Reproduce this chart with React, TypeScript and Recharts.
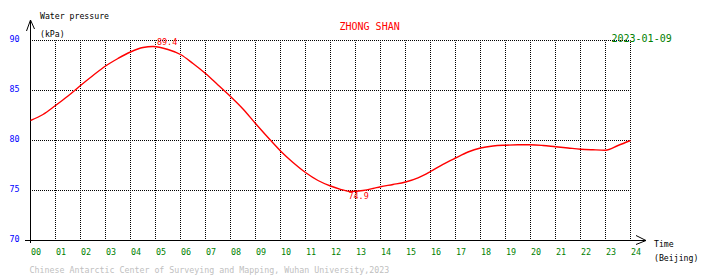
import React from "react";
import {
  LineChart,
  Line,
  XAxis,
  YAxis,
  CartesianGrid,
  ReferenceDot,
  Customized,
} from "recharts";

const hours = [
  0, 0.5, 1, 1.5, 2, 2.5, 3, 3.5, 4, 4.5, 4.9, 5.5, 6, 6.5, 7, 7.5, 8, 8.5, 9,
  9.5, 10, 10.5, 11, 11.5, 12, 12.4, 12.8, 13.3, 13.7, 14, 14.5, 15, 15.5, 16,
  16.5, 17, 17.5, 18, 18.5, 19, 19.5, 20, 20.5, 21, 21.5, 22, 22.5, 23, 23.5, 24,
];
const pressure = [
  82.0, 82.6, 83.5, 84.45, 85.5, 86.5, 87.45, 88.2, 88.85, 89.3, 89.4, 89.1,
  88.6, 87.7, 86.7, 85.55, 84.4, 83.15, 81.7, 80.3, 78.95, 77.8, 76.8, 76.0,
  75.45, 75.12, 74.9, 75.0, 75.2, 75.38, 75.6, 75.85, 76.27, 76.9, 77.62, 78.25,
  78.85, 79.25, 79.45, 79.53, 79.57, 79.57, 79.5, 79.37, 79.25, 79.13, 79.07,
  79.03, 79.5, 80.0,
];
const xTicks = [
  0, 1, 2, 3, 4, 5, 6, 7, 8, 9, 10, 11, 12, 13, 14, 15, 16, 17, 18, 19, 20, 21,
  22, 23, 24,
];
const xTickLabels = [
  "00", "01", "02", "03", "04", "05", "06", "07", "08", "09", "10", "11", "12",
  "13", "14", "15", "16", "17", "18", "19", "20", "21", "22", "23", "24",
];
const yTicks = [70, 75, 80, 85, 90];
const gridX = [1, 2, 3, 4, 5, 6, 7, 8, 9, 10, 11, 12, 13, 14, 15, 16, 17, 18, 19, 20, 21, 22, 23, 24];
const gridY = [75, 80, 85, 90];

const stationName = "ZHONG SHAN";
const dateLabel = "2023-01-09";
const yTitle = "Water pressure";
const yUnit = "(kPa)";
const xTitle = "Time";
const xUnit = "(Beijing)";
const footer =
  "Chinese Antarctic Center of Surveying and Mapping, Wuhan University,2023";

const data = hours.map((h, i) => ({ h, p: pressure[i] }));

const maxVal = Math.max(...pressure);
const minVal = Math.min(...pressure);
const maxIdx = pressure.indexOf(maxVal);
const minIdx = pressure.indexOf(minVal);

const MONO = '"DejaVu Sans Mono", "Liberation Mono", monospace';

const XTick = (props: any) => {
  const { x, payload, index } = props;
  const label = xTickLabels[index] ?? String(payload.value);
  return (
    <text x={x + 0.5} y={255} fontFamily={MONO} fontSize={8.4} fill="#008000" textAnchor="start">
      {label}
    </text>
  );
};

const YTick = (props: any) => {
  const { y, payload } = props;
  return (
    <text x={19.5} y={y + 1} fontFamily={MONO} fontSize={8.4} fill="#0000ff" textAnchor="end">
      {payload.value}
    </text>
  );
};

const Decor = () => (
  <g>
    <line x1={25} y1={240.5} x2={646} y2={240.5} stroke="#000" strokeWidth={1} />
    <polyline points="636,235.5 646,240.5 636,244.5" fill="none" stroke="#000" strokeWidth={1} />
    <line x1={30.5} y1={243} x2={30.5} y2={20} stroke="#000" strokeWidth={1} />
    <polyline points="26.5,31 30.5,20 34.5,29" fill="none" stroke="#000" strokeWidth={1} />
    <text x={40} y={18.5} fontFamily={MONO} fontSize={8.2} fill="#000">{yTitle}</text>
    <text x={40} y={36.5} fontFamily={MONO} fontSize={8.2} fill="#000">{yUnit}</text>
    <text x={654} y={246.5} fontFamily={MONO} fontSize={8.2} fill="#000">{xTitle}</text>
    <text x={654} y={260.5} fontFamily={MONO} fontSize={8.2} fill="#000">{xUnit}</text>
    <text x={339.5} y={29.5} fontFamily={MONO} fontSize={10} fill="#ff0000">{stationName}</text>
    <text x={611.5} y={41.5} fontFamily={MONO} fontSize={10} fill="#008000">{dateLabel}</text>
    <text x={29.5} y={273} fontFamily={MONO} fontSize={8.3} fill="#c0c0c0">{footer}</text>
  </g>
);

export default function App() {
  return (
    <div style={{ position: "absolute", left: 0, top: 0, width: 710, height: 278, background: "#fff" }}>
      <LineChart
        width={710}
        height={278}
        data={data}
        margin={{ top: 40.5, right: 79.5, bottom: 0, left: 0.5 }}
      >
        <CartesianGrid
          stroke="#000"
          strokeWidth={1}
          strokeDasharray="1 1"
          strokeDashoffset={0.5}
          horizontalValues={gridY}
          verticalValues={gridX}
        />
        <XAxis
          type="number"
          dataKey="h"
          domain={[0, 24]}
          ticks={xTicks}
          interval={0}
          height={37.5}
          axisLine={false}
          tickLine={false}
          tick={<XTick />}
        />
        <YAxis
          type="number"
          domain={[70, 90]}
          ticks={yTicks}
          interval={0}
          width={30}
          axisLine={false}
          tickLine={false}
          tick={<YTick />}
        />
        <Line
          type="monotone"
          dataKey="p"
          stroke="#ff0000"
          strokeWidth={1.4}
          dot={false}
          isAnimationActive={false}
        />
        <ReferenceDot
          x={hours[maxIdx]}
          y={maxVal}
          r={0}
          shape={(p: any) => (
            <text x={p.cx + 4} y={p.cy - 2} fontFamily={MONO} fontSize={8.4} fill="#ff0000">
              {maxVal.toFixed(1)}
            </text>
          )}
        />
        <ReferenceDot
          x={hours[minIdx]}
          y={minVal}
          r={0}
          shape={(p: any) => (
            <text x={p.cx - 2} y={p.cy + 7} fontFamily={MONO} fontSize={8.4} fill="#ff0000">
              {minVal.toFixed(1)}
            </text>
          )}
        />
        <Customized component={Decor} />
      </LineChart>
    </div>
  );
}
